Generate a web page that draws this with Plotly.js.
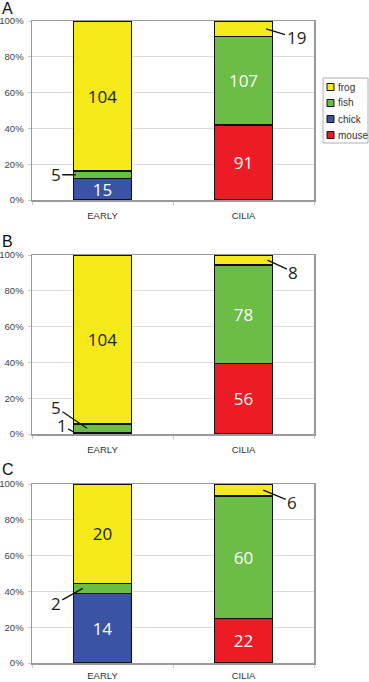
<!DOCTYPE html>
<html>
<head>
<meta charset="utf-8">
<script src="https://cdn.plot.ly/plotly-3.0.1.min.js"></script>
<style>html,body{margin:0;padding:0;background:#fff;}#chart{width:369px;height:682px;}</style>
</head>
<body>
<div id="chart"></div>
<script>
// ---- data ----
const categories = ['EARLY', 'CILIA'];
const seriesNames = ['mouse', 'chick', 'fish', 'frog'];
const seriesColors = ['#ed1c24', '#3a53a4', '#6bbd45', '#f4ea1a'];
const labelColors = ['#ffffff', '#ffffff', '#ffffff', '#231f20'];
const legendOrder = ['frog', 'fish', 'chick', 'mouse'];
const panelLetters = ['A', 'B', 'C'];
const yTickVals = [0, 20, 40, 60, 80, 100];
const yTickText = ['0%', '20%', '40%', '60%', '80%', '100%'];

// counts per category [EARLY, CILIA]
const A_mouse = [null, 91];
const A_chick = [15, null];
const A_fish  = [5, 107];
const A_frog  = [104, 19];

const B_mouse = [null, 56];
const B_chick = [1, null];
const B_fish  = [5, 78];
const B_frog  = [104, 8];

const C_mouse = [null, 22];
const C_chick = [14, null];
const C_fish  = [2, 60];
const C_frog  = [20, 6];

const panels = [
  [A_mouse, A_chick, A_fish, A_frog],
  [B_mouse, B_chick, B_fish, B_frog],
  [C_mouse, C_chick, C_fish, C_frog]
];

// placement of outside (leader-line) labels: [panel, category, series, tip dx, text ax, text ay]
const calloutPlacement = [
  [0, 0, 2, -0.19, -20, 0],
  [0, 1, 3, 0.16, 30, 9],
  [1, 0, 2, -0.11, -31, -21],
  [1, 0, 1, -0.19, -14, -8],
  [1, 1, 3, 0.17, 26, 12],
  [2, 0, 2, -0.14, -27, 15],
  [2, 1, 3, 0.14, 29, 12]
];

// ---- layout geometry (pixels) ----
const W = 369, H = 682;
const plotLeft = 32, plotRight = 314;
const panelPix = [[21, 200], [255, 434], [484, 663]]; // [top, bottom]
const labelStandoff = [6, 6, 3];
const letterMid = [9, 241, 469];
const px = x => x / W;
const py = y => 1 - y / H;

const numFont = {family: '"Open Sans", "Noto Sans", sans-serif', size: 17};
const smallFont = 'Arial, "Liberation Sans", sans-serif';

const traces = [];
const annotations = [];
const shapes = [];
const layout = {
  width: W, height: H,
  margin: {l: 0, r: 0, t: 0, b: 0},
  paper_bgcolor: '#ffffff',
  plot_bgcolor: '#ffffff',
  barmode: 'stack',
  barnorm: 'percent',
  bargap: 0.59,
  showlegend: false,
  font: {family: smallFont, color: '#333'}
};

panels.forEach((series, p) => {
  const sfx = p === 0 ? '' : String(p + 1);
  const xa = 'x' + sfx, ya = 'y' + sfx;
  const totals = categories.map((c, i) => series.reduce((s, arr) => s + (arr[i] || 0), 0));

  series.forEach((vals, s) => {
    const text = vals.map((v, i) => (v && v / totals[i] >= 0.1) ? String(v) : '');
    traces.push({
      type: 'bar',
      x: categories,
      y: vals,
      name: seriesNames[s],
      xaxis: xa, yaxis: ya,
      marker: {color: seriesColors[s], line: {color: '#111', width: 1.5}},
      text: text,
      texttemplate: '%{text}',
      textposition: 'inside',
      insidetextanchor: 'middle',
      textangle: 0,
      constraintext: 'none',
      textfont: {family: numFont.family, size: numFont.size, color: labelColors[s]},
      hoverinfo: 'x+y+name'
    });
  });

  const [top, bot] = panelPix[p];
  layout['xaxis' + sfx] = {
    domain: [px(plotLeft), px(plotRight)],
    anchor: ya,
    type: 'category',
    range: [-0.5, 1.5],
    showline: true, mirror: true, linecolor: '#9a9a9a', linewidth: 1.5,
    ticks: 'outside', tickson: 'boundaries', ticklen: 3, tickcolor: '#c8c8c8',
    tickfont: {family: smallFont, size: 9.5, color: '#333'},
    ticklabelstandoff: labelStandoff[p],
    showgrid: false, zeroline: false, fixedrange: true
  };
  layout['yaxis' + sfx] = {
    domain: [py(bot), py(top)],
    anchor: xa,
    range: [0, 100],
    tickvals: yTickVals, ticktext: yTickText,
    showline: true, mirror: true, linecolor: '#9a9a9a', linewidth: 1.5,
    ticks: 'outside', ticklen: 3, tickcolor: '#c8c8c8',
    tickfont: {family: smallFont, size: 9.5, color: '#444'},
    ticklabelstandoff: 2,
    showgrid: true, gridcolor: '#dcdcdc', gridwidth: 1,
    zeroline: false, fixedrange: true
  };

  annotations.push({
    xref: 'paper', yref: 'paper',
    x: 0, y: py(letterMid[p]), xanchor: 'left', yanchor: 'middle',
    text: panelLetters[p], showarrow: false,
    font: {family: smallFont, size: 16, color: '#111'}
  });

  calloutPlacement.filter(c => c[0] === p).forEach(([pp, ci, si, dx, ax, ay]) => {
    let below = 0;
    for (let k = 0; k < si; k++) below += (series[k][ci] || 0);
    const mid = (below + series[si][ci] / 2) / totals[ci] * 100;
    annotations.push({
      xref: xa, yref: ya,
      x: ci + dx, y: mid,
      ax: ax, ay: ay,
      text: String(series[si][ci]),
      showarrow: true, arrowhead: 0, arrowwidth: 1.3, arrowcolor: '#111',
      standoff: 0, startstandoff: 0,
      font: {family: numFont.family, size: numFont.size, color: '#231f20'}
    });
  });
});

// ---- legend (panel A) ----
const legLeft = 323, legRight = 368, legTop = 78, legBottom = 143;
shapes.push({
  type: 'rect', xref: 'paper', yref: 'paper',
  x0: px(legLeft), x1: px(legRight), y0: py(legBottom), y1: py(legTop),
  line: {color: '#b0b0b0', width: 1}, fillcolor: '#ffffff'
});
legendOrder.forEach((name, k) => {
  const s = seriesNames.indexOf(name);
  const cy = 87 + k * 16;
  shapes.push({
    type: 'rect', xref: 'paper', yref: 'paper',
    x0: px(327), x1: px(334), y0: py(cy + 3.5), y1: py(cy - 3.5),
    line: {color: '#111', width: 1}, fillcolor: seriesColors[s]
  });
  annotations.push({
    xref: 'paper', yref: 'paper', x: px(336), y: py(cy),
    xanchor: 'left', yanchor: 'middle', showarrow: false,
    text: name, font: {family: smallFont, size: 10, color: '#333'}
  });
});

layout.annotations = annotations;
layout.shapes = shapes;

Plotly.newPlot('chart', traces, layout, {displayModeBar: false, staticPlot: true});
</script>
</body>
</html>
